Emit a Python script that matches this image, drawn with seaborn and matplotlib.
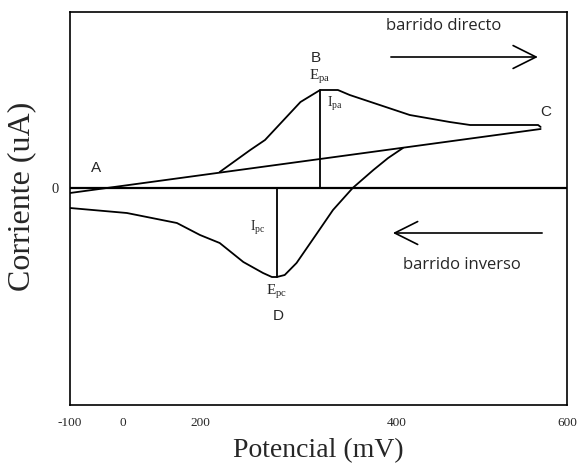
import numpy as np
import pandas as pd
import matplotlib
matplotlib.use("Agg")
import matplotlib.pyplot as plt
import seaborn as sns

# Potential axis (mV) and the tick values shown on it
tick_values = [-100, 0, 200, 400, 600]
tick_labels = ["-100", "0", "200", "400", "600"]
# Uneven spacing of the hand-drawn potential scale (relative positions of the ticks)
tick_spacing = [0.0, 53.0, 130.0, 327.0, 497.0]

# Straight capacitive baseline A -> C
base_E = [-100, 569]
base_i = [-1.0, 11.8]

# Forward (anodic) sweep leaving the baseline and returning at C
fwd_E = [220, 251, 266, 302, 322, 340, 352, 415, 462, 486, 566, 569]
fwd_i = [3.2, 7.6, 9.6, 17.2, 19.6, 19.6, 18.6, 14.6, 13.2, 12.6, 12.6, 12.2]

# Reverse (cathodic) sweep from the baseline back to the start
rev_E = [407, 391, 376, 355, 335, 319, 312, 298, 286, 278, 273, 264, 244, 220, 200, 140, 10, -100]
rev_i = [8.0, 6.0, 3.6, 0.0, -4.4, -9.0, -11.0, -15.0, -17.4, -17.8, -17.8, -17.0, -14.8, -11.0, -9.4, -7.0, -5.0, -4.0]

# Peak potentials and currents
E_pa, i_pa = 322, 19.6
E_pc, i_pc = 278, -17.8

sns.set_theme(style="white")
plt.rcParams["font.family"] = ["Liberation Serif", "DejaVu Serif"]
plt.rcParams["mathtext.fontset"] = "custom"
plt.rcParams["mathtext.rm"] = "Liberation Serif"
plt.rcParams["mathtext.it"] = "Liberation Serif:italic"

fig = plt.figure(figsize=(5.77, 4.72), dpi=100)
ax = fig.add_axes([70 / 577, 1 - 405 / 472, 497 / 577, 393 / 472])


# Piecewise-linear potential scale following the drawn tick spacing
def fwd_ext(x):
    x = np.asarray(x, dtype=float)
    out = np.interp(x, tick_values, tick_spacing)
    s0 = (tick_spacing[1] - tick_spacing[0]) / (tick_values[1] - tick_values[0])
    s1 = (tick_spacing[-1] - tick_spacing[-2]) / (tick_values[-1] - tick_values[-2])
    out = np.where(x < tick_values[0], tick_spacing[0] + (x - tick_values[0]) * s0, out)
    out = np.where(x > tick_values[-1], tick_spacing[-1] + (x - tick_values[-1]) * s1, out)
    return out


def inv_ext(p):
    p = np.asarray(p, dtype=float)
    out = np.interp(p, tick_spacing, tick_values)
    s0 = (tick_values[1] - tick_values[0]) / (tick_spacing[1] - tick_spacing[0])
    s1 = (tick_values[-1] - tick_values[-2]) / (tick_spacing[-1] - tick_spacing[-2])
    out = np.where(p < tick_spacing[0], tick_values[0] + (p - tick_spacing[0]) * s0, out)
    out = np.where(p > tick_spacing[-1], tick_values[-1] + (p - tick_spacing[-1]) * s1, out)
    return out


ax.set_xscale("function", functions=(fwd_ext, inv_ext))

df_base = pd.DataFrame({"E": base_E, "i": base_i})
df_fwd = pd.DataFrame({"E": fwd_E, "i": fwd_i})
df_rev = pd.DataFrame({"E": rev_E, "i": rev_i})

line_kw = dict(x="E", y="i", sort=False, estimator=None, color="black", linewidth=1.3, ax=ax)
sns.lineplot(data=df_base, **line_kw)
sns.lineplot(data=df_fwd, **line_kw)
sns.lineplot(data=df_rev, **line_kw)

# Zero-current line and the peak-current verticals
ax.axhline(0, color="black", linewidth=1.6)
ax.plot([E_pa, E_pa], [0, i_pa], color="black", linewidth=1.3)
ax.plot([E_pc, E_pc], [0, i_pc], color="black", linewidth=1.3)

ax.set_xlim(-100, 600)
ax.set_ylim(-43.4, 35.2)

ax.set_xticks(tick_values)
ax.set_xticklabels(tick_labels, fontsize=9.5)
ax.set_yticks([0])
ax.set_yticklabels(["0"], fontsize=10.5)
ax.tick_params(axis="x", length=0, pad=9)
ax.tick_params(axis="y", length=0, pad=8)
ax.minorticks_off()

for s in ax.spines.values():
    s.set_visible(True)
    s.set_color("black")
    s.set_linewidth(1.2)

ax.set_xlabel("Potencial (mV)", fontsize=20)
ax.set_ylabel("Corriente (uA)", fontsize=23)
ax.xaxis.set_label_coords(0.5, -0.085)
ax.yaxis.set_label_coords(-0.068, 0.53)

# Point labels
sans = ["Liberation Sans", "DejaVu Sans"]
ax.text(-51, 4.0, "A", family=sans, fontsize=11, ha="center", va="center")
ax.text(318, 26.0, "B", family=sans, fontsize=11, ha="center", va="center")
ax.text(575, 15.2, "C", family=sans, fontsize=11, ha="center", va="center")
ax.text(279, -25.6, "D", family=sans, fontsize=11, ha="center", va="center")

ax.text(E_pa, 22.2, r"E$_{\mathrm{pa}}$", fontsize=11, ha="center", va="center")
ax.text(337, 16.8, r"I$_{\mathrm{pa}}$", fontsize=10, ha="center", va="center")
ax.text(259, -8.0, r"I$_{\mathrm{pc}}$", fontsize=10, ha="center", va="center")
ax.text(E_pc, -20.8, r"E$_{\mathrm{pc}}$", fontsize=11, ha="center", va="center")

# Sweep direction arrows
hum = ["Open Sans", "DejaVu Sans"]
ax.text(455, 32.3, "barrido directo", family=hum, fontsize=12, ha="center", va="center")
ax.annotate("", xy=(569, 26.2), xytext=(391, 26.2),
            arrowprops=dict(arrowstyle="->,head_length=1.1,head_width=0.55",
                            color="black", linewidth=1.2, mutation_scale=15))
ax.text(476, -15.4, "barrido inverso", family=hum, fontsize=12, ha="center", va="center")
ax.annotate("", xy=(393, -9.0), xytext=(574, -9.0),
            arrowprops=dict(arrowstyle="->,head_length=1.1,head_width=0.55",
                            color="black", linewidth=1.2, mutation_scale=15))

fig.savefig("out.png", dpi=100)
